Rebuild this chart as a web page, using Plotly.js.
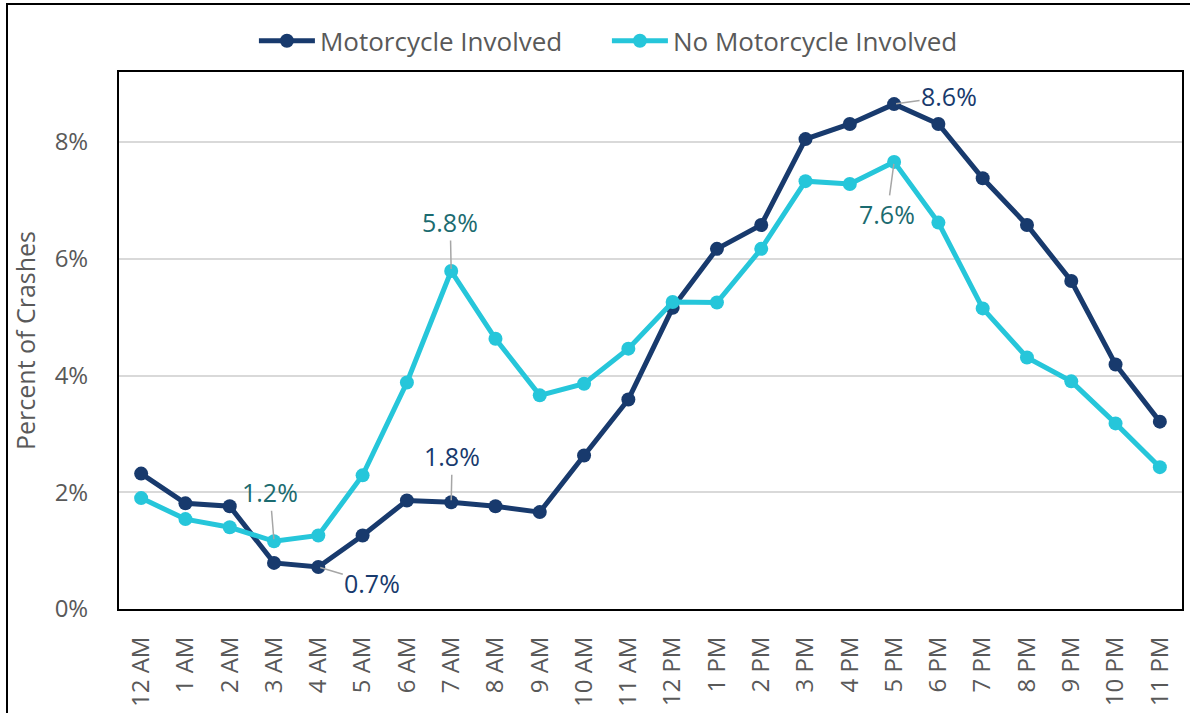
<!DOCTYPE html>
<html>
<head>
<meta charset="utf-8">
<script src="https://cdn.plot.ly/plotly-3.0.1.min.js"></script>
<style>
  html, body { margin: 0; padding: 0; background: #fff; }
  #wrap { position: relative; width: 1190px; height: 713px; overflow: hidden; }
  #chart { width: 1190px; height: 713px; }
  #frame { position: absolute; left: 6px; top: 3px; width: 1200px; height: 720px;
           border-left: 2px solid #000; border-top: 2px solid #000; pointer-events: none; }
</style>
</head>
<body>
<div id="wrap">
  <div id="chart"></div>
  <div id="frame"></div>
</div>
<script>
const hours = ["12 AM","1 AM","2 AM","3 AM","4 AM","5 AM","6 AM","7 AM","8 AM","9 AM","10 AM","11 AM",
               "12 PM","1 PM","2 PM","3 PM","4 PM","5 PM","6 PM","7 PM","8 PM","9 PM","10 PM","11 PM"];
const motorcycle = [2.32, 1.81, 1.76, 0.79, 0.72, 1.26, 1.86, 1.83, 1.76, 1.66, 2.63, 3.59,
                    5.16, 6.17, 6.58, 8.05, 8.31, 8.65, 8.31, 7.38, 6.58, 5.62, 4.19, 3.21];
const noMotorcycle = [1.90, 1.54, 1.40, 1.16, 1.26, 2.29, 3.88, 5.79, 4.63, 3.66, 3.86, 4.46,
                      5.26, 5.25, 6.17, 7.33, 7.28, 7.66, 6.62, 5.15, 4.31, 3.90, 3.18, 2.43];
const yTicks = [0, 2, 4, 6, 8];
const yTickText = ["0%", "2%", "4%", "6%", "8%"];

const NAVY = "#183A6D";
const CYAN = "#26C6DA";
const TEAL = "#1B6B70";
const GRAY = "#595959";
const FONT = "Open Sans, sans-serif";

const traces = [
  { x: hours, y: motorcycle, name: "Motorcycle Involved", type: "scatter", mode: "lines+markers",
    line: { color: NAVY, width: 5 }, marker: { color: NAVY, size: 14 } },
  { x: hours, y: noMotorcycle, name: "No Motorcycle Involved", type: "scatter", mode: "lines+markers",
    line: { color: CYAN, width: 5 }, marker: { color: CYAN, size: 14 } }
];

function lbl(series, idx, text, color, ax, ay) {
  return { x: hours[idx], y: series[idx], xref: "x", yref: "y",
    text: text, showarrow: true, arrowhead: 0,
    arrowwidth: 1.5, arrowcolor: "#A6A6A6", ax: ax, ay: ay, standoff: 2, startstandoff: 0,
    font: { family: FONT, size: 25, color: color } };
}
const annotations = [
  lbl(noMotorcycle, 3, "1.2%", TEAL, -4, -49),
  lbl(motorcycle, 4, "0.7%", NAVY, 54, 16),
  lbl(motorcycle, 7, "1.8%", NAVY, 1, -46),
  lbl(noMotorcycle, 7, "5.8%", TEAL, -1, -49),
  lbl(motorcycle, 17, "8.6%", NAVY, 55, -8),
  lbl(noMotorcycle, 17, "7.6%", TEAL, -7, 52)
];

const layout = {
  width: 1190, height: 713,
  margin: { l: 119, r: 8, t: 72, b: 104 },
  paper_bgcolor: "#fff", plot_bgcolor: "#fff",
  font: { family: FONT, color: GRAY, size: 24 },
  showlegend: true,
  legend: { orientation: "h", x: 0.459, xanchor: "center", y: 1.058, yanchor: "middle",
            font: { family: FONT, size: 26, color: GRAY }, itemwidth: 56, entrywidth: 282,
            traceorder: "normal" },
  xaxis: { type: "category", range: [-0.5, 23.5], tickangle: -90, showgrid: false,
           showline: true, linecolor: "#000", linewidth: 2, mirror: true, ticks: "",
           ticklabelstandoff: 16, tickfont: { family: FONT, size: 24, color: GRAY }, zeroline: false },
  yaxis: { range: [0, 9.2], tickvals: yTicks, ticktext: yTickText, showgrid: true,
           gridcolor: "#D9D9D9", gridwidth: 2, showline: true, linecolor: "#000", linewidth: 2,
           mirror: true, ticks: "", ticklabelstandoff: 24, zeroline: false,
           tickfont: { family: FONT, size: 24, color: GRAY },
           title: { text: "Percent of Crashes", font: { family: FONT, size: 25, color: GRAY }, standoff: 12 } },
  annotations: annotations
};

Plotly.newPlot("chart", traces, layout, { displayModeBar: false, staticPlot: true });
</script>
</body>
</html>
